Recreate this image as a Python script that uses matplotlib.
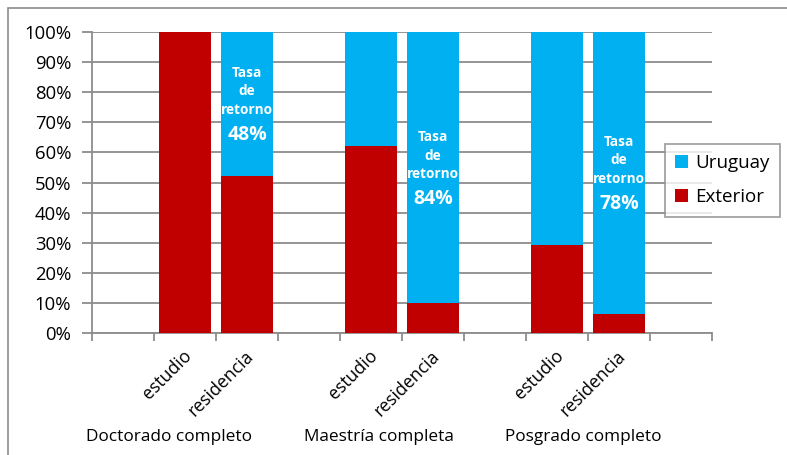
import matplotlib
matplotlib.use("Agg")
import matplotlib.pyplot as plt
from matplotlib.patches import Rectangle, Patch
from matplotlib.ticker import FixedLocator, PercentFormatter

plt.rcParams['font.family'] = ['Open Sans', 'DejaVu Sans']

groups = ["Doctorado completo", "Maestría completa", "Posgrado completo"]
subcats = ["estudio", "residencia"]
exterior = [100, 52, 62, 10, 29.2, 6.4]
uruguay = [0, 48, 38, 90, 70.8, 93.6]
tasas = ["48%", "84%", "78%"]
series_names = ["Uruguay", "Exterior"]

BLUE = "#00B0F0"
RED = "#C00000"
GRID = "#8C8C8C"

W, H = 787, 455
fig = plt.figure(figsize=(W / 100, H / 100), dpi=100)
fig.patches.append(Rectangle((8 / W, -0.1), 1.2, 1 - 8 / H + 0.1, transform=fig.transFigure,
                             fill=False, edgecolor="#8C8C8C", linewidth=1.2))
ax = fig.add_axes([92 / W, 1 - 333 / H, 620 / W, 301 / H])

# slot positions: empty, estudio, residencia per group
xpos = []
for g in range(len(groups)):
    xpos += [3 * g + 1, 3 * g + 2]

ax.bar(xpos, exterior, width=0.84, color=RED, zorder=3)
ax.bar(xpos, uruguay, bottom=exterior, width=0.84, color=BLUE, zorder=3)

ax.set_xlim(-0.5, 9.5)
ax.set_ylim(0, 100)
ax.yaxis.set_major_locator(FixedLocator(range(0, 101, 10)))
ax.yaxis.set_major_formatter(PercentFormatter(decimals=0))
ax.grid(axis='y', color=GRID, linewidth=1.3, zorder=0)
ax.set_axisbelow(True)

ax.set_xticks([x - 0.04 for x in xpos])
ax.set_xticklabels(subcats * len(groups), rotation=45, ha='right',
                   rotation_mode='anchor', fontsize=12.8)
ax.set_xticks([i - 0.5 for i in range(11)], minor=True)
ax.tick_params(axis='x', which='major', length=0, pad=10)
ax.tick_params(axis='x', which='minor', length=6, color=GRID, width=1.3)
ax.tick_params(axis='y', length=7, color=GRID, width=1.3, pad=8, labelsize=13.3)

for s in ['top', 'right']:
    ax.spines[s].set_visible(False)
for s in ['left', 'bottom']:
    ax.spines[s].set_color(GRID)
    ax.spines[s].set_linewidth(1.3)

# group labels
gx = [0.74, 4.13, 7.42]
for x, name in zip(gx, groups):
    ax.text(x, -0.346, name, transform=ax.get_xaxis_transform(), ha='center',
            va='center', fontsize=12.4, clip_on=False)

# return-rate annotations on residencia bars
ann_y = [86.4, 65, 63.5]
for g, (t, y0) in enumerate(zip(tasas, ann_y)):
    x = 3 * g + 2
    for k, line in enumerate(["Tasa", "de", "retorno"]):
        ax.text(x, y0 - k * 6.1, line, ha='center', va='center', color='white',
                fontsize=9.8, fontweight='bold', zorder=5)
    ax.text(x, y0 - 20.5, t, ha='center', va='center', color='white',
            fontsize=14, fontweight='bold', zorder=5)

handles = [Patch(facecolor=BLUE), Patch(facecolor=RED)]
leg = fig.legend(handles, series_names, loc='upper left',
                 bbox_to_anchor=(665 / W, 1 - 144 / H), borderaxespad=0,
                 fancybox=False, frameon=True, fontsize=13.5, handlelength=0.7,
                 handleheight=0.7, handletextpad=0.35, labelspacing=0.85,
                 borderpad=0.55)
leg.get_frame().set_edgecolor(GRID)
leg.get_frame().set_linewidth(1.3)

fig.savefig("out.png", dpi=100)
